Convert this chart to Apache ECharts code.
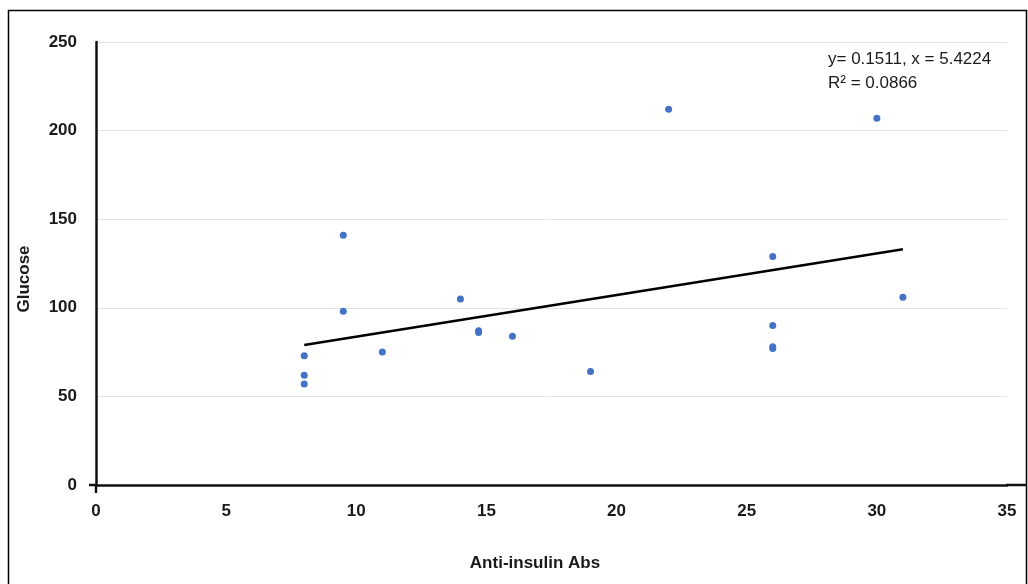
<!DOCTYPE html>
<html>
<head>
<meta charset="utf-8">
<script src="https://cdn.jsdelivr.net/npm/echarts@6/dist/echarts.min.js"></script>
<style>
html,body{margin:0;padding:0;background:#fff;}
#chart{width:1028px;height:584px;}
</style>
</head>
<body>
<div id="chart"></div>
<script>
// Data
const antiInsulin = [8, 8, 8, 9.5, 9.5, 11, 14, 14.7, 14.7, 16, 19, 22, 26, 26, 26, 26, 30, 31];
const glucose     = [73, 62, 57, 141, 98, 75, 105, 87, 86, 84, 64, 212, 129, 90, 78, 77, 207, 106];
const trendX = [8, 31];
const trendY = [79, 133];
const xTicks = [0, 5, 10, 15, 20, 25, 30, 35];
const yTicks = [0, 50, 100, 150, 200, 250];
const xTitle = 'Anti-insulin Abs';
const yTitle = 'Glucose';
const eqLine1 = 'y= 0.1511, x = 5.4224';
const eqLine2 = 'R² = 0.0866';

const FONT = '"Liberation Sans", Arial, sans-serif';
const chart = echarts.init(document.getElementById('chart'));
const points = antiInsulin.map((x, i) => [x, glucose[i]]);
const trend = trendX.map((x, i) => [x, trendY[i]]);

chart.setOption({
  animation: false,
  backgroundColor: '#fff',
  grid: { left: 96, right: 21, top: 42, bottom: 99 },
  xAxis: {
    type: 'value',
    min: xTicks[0], max: xTicks[xTicks.length - 1], interval: 5,
    axisLine: { show: true, onZero: false, lineStyle: { color: '#111', width: 2.5 } },
    axisTick: { show: false },
    splitLine: { show: false },
    axisLabel: { margin: 18, color: '#1a1a1a', fontFamily: FONT, fontWeight: 'bold', fontSize: 17 }
  },
  yAxis: {
    type: 'value',
    min: yTicks[0], max: yTicks[yTicks.length - 1], interval: 50,
    axisLine: { show: true, onZero: false, lineStyle: { color: '#111', width: 2.5 } },
    axisTick: { show: false },
    splitLine: { show: true, lineStyle: { color: '#e3e3e3', width: 1 } },
    axisLabel: { margin: 19, color: '#1a1a1a', fontFamily: FONT, fontWeight: 'bold', fontSize: 17 }
  },
  series: [
    {
      type: 'line',
      data: trend,
      showSymbol: false,
      symbol: 'none',
      lineStyle: { color: '#000', width: 2.5 },
      z: 2
    },
    {
      type: 'scatter',
      data: points,
      symbol: 'circle',
      symbolSize: 7,
      itemStyle: { color: '#4472C4', opacity: 1 },
      z: 3
    }
  ],
  graphic: [
    { type: 'rect', shape: { x: 8.5, y: 10.5, width: 1018, height: 600 },
      style: { fill: 'none', stroke: '#000', lineWidth: 1.5 }, z: 0, silent: true },
    // axis line extension and origin cross ticks (decoration)
    { type: 'line', shape: { x1: 1006, y1: 485, x2: 1027, y2: 485 }, style: { stroke: '#111', lineWidth: 2.5 }, silent: true },
    { type: 'line', shape: { x1: 89, y1: 485, x2: 97, y2: 485 }, style: { stroke: '#111', lineWidth: 2.5 }, silent: true },
    { type: 'line', shape: { x1: 96, y1: 484, x2: 96, y2: 493 }, style: { stroke: '#111', lineWidth: 2.5 }, silent: true },
    { type: 'text', x: 828, y: 59, style: { text: eqLine1, font: '17px ' + FONT, fill: '#1a1a1a', verticalAlign: 'middle' } },
    { type: 'text', x: 828, y: 83, style: { text: eqLine2, font: '17px ' + FONT, fill: '#1a1a1a', verticalAlign: 'middle' } },
    { type: 'text', x: 535, y: 563, style: { text: xTitle, font: 'bold 17px ' + FONT, fill: '#1a1a1a', align: 'center', verticalAlign: 'middle' } },
    { type: 'text', x: 24, y: 279, rotation: Math.PI / 2, style: { text: yTitle, font: 'bold 17px ' + FONT, fill: '#1a1a1a', align: 'center', verticalAlign: 'middle' } }
  ]
});
</script>
</body>
</html>
